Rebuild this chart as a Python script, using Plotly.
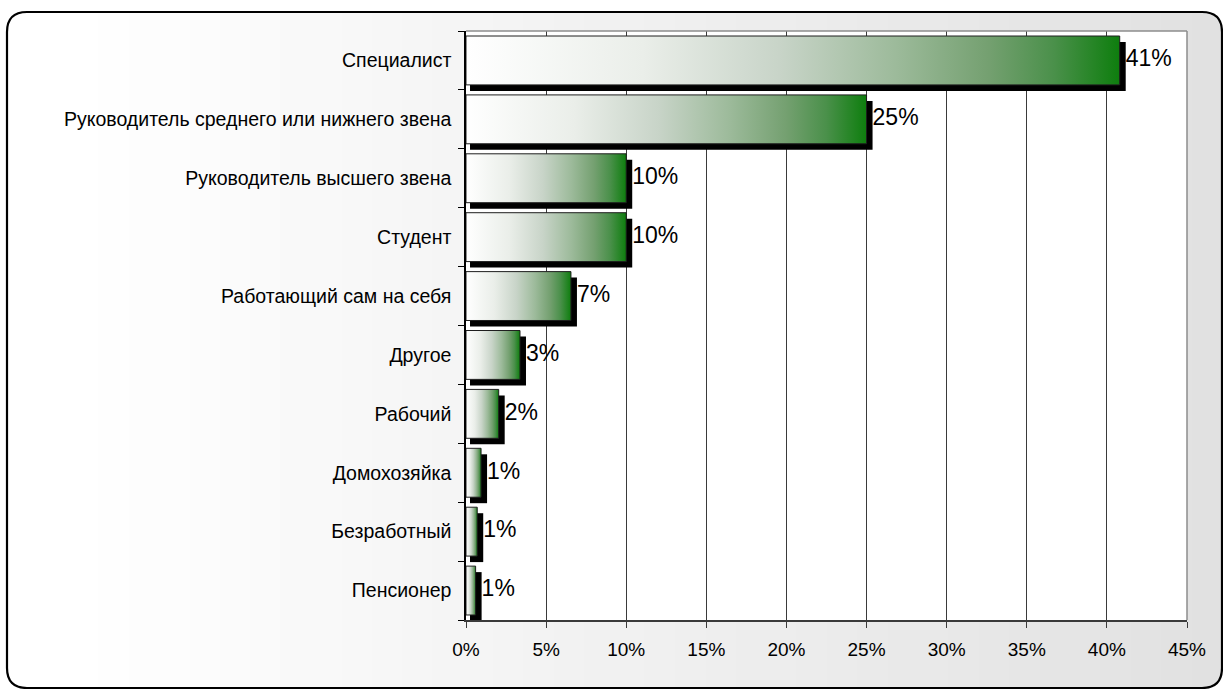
import plotly.graph_objects as go

categories = ["Специалист", "Руководитель среднего или нижнего звена",
              "Руководитель высшего звена", "Студент", "Работающий сам на себя",
              "Другое", "Рабочий", "Домохозяйка", "Безработный", "Пенсионер"]
values = [40.8, 25.0, 10.0, 10.0, 6.55, 3.37, 2.04, 0.94, 0.7, 0.6]
value_labels = ["41%", "25%", "10%", "10%", "7%", "3%", "2%", "1%", "1%", "1%"]
x_ticks = [0, 5, 10, 15, 20, 25, 30, 35, 40, 45]
x_tick_labels = [f"{t}%" for t in x_ticks]

W, H = 1223, 689
ML, MR, MT, MB = 466, 36, 31, 69
PW, PH = W - ML - MR, H - MT - MB
XMAX = 45
n = len(categories)
px_x = XMAX / PW          # data units per pixel (x)
px_y = n / PH             # data units per pixel (y)

BAR_W = 0.83
SH = 6                    # shadow offset in px
FONT = "Liberation Sans, Arial, sans-serif"

green_scale = [[0, "#ffffff"], [0.27, "#eaeee9"], [0.48, "#c8d4c8"],
               [0.66, "#9cba9a"], [0.8, "#74a070"], [0.9, "#4a904a"],
               [1, "#0e7e0e"]]

fig = go.Figure()

# shadows
ypos = list(range(n))
sh_base = 0.25
fig.add_trace(go.Bar(
    orientation="h", y=ypos,
    x=[v + SH * px_x - sh_base for v in values],
    base=sh_base, width=BAR_W, offset=-BAR_W / 2 + SH * px_y,
    marker=dict(color="black", line=dict(width=0)),
    hoverinfo="skip", showlegend=False))

# gradient bars
for i, v in enumerate(values):
    y0, y1 = i - BAR_W / 2, i + BAR_W / 2
    fig.add_trace(go.Scatter(
        x=[0, v, v, 0, 0], y=[y0, y0, y1, y1, y0],
        mode="lines", fill="toself",
        fillgradient=dict(type="horizontal", colorscale=green_scale),
        line=dict(color="#1e1e1e", width=1),
        hoverinfo="skip", showlegend=False, name=categories[i]))

# value labels
fig.add_trace(go.Scatter(
    x=[v + SH * px_x for v in values], y=ypos,
    mode="text", text=value_labels, textposition="middle right",
    textfont=dict(family=FONT, size=23, color="black"),
    hoverinfo="skip", showlegend=False))

# background: frame with gradient bands
shapes = []
fx0, fx1, fy0, fy1 = 7, 1222, 12, 688


def pxx(X):
    return (X - ML) / PW


def pxy(Y):
    return (H - MB - Y) / PH


nb = 40
for k in range(nb):
    a = fx0 + (fx1 - fx0) * k / nb
    b = fx0 + (fx1 - fx0) * (k + 1) / nb + 1
    t = max(0.0, (k + 0.5) / nb - 0.06) / 0.94
    g = int(round(255 - 30 * t))
    shapes.append(dict(type="rect", xref="paper", yref="paper", layer="below",
                       x0=pxx(a), x1=pxx(min(b, fx1)), y0=pxy(fy1), y1=pxy(fy0),
                       fillcolor=f"rgb({g},{g},{g})", line=dict(width=0)))
# white plot area
shapes.append(dict(type="rect", xref="paper", yref="paper", layer="below",
                   x0=0, x1=1, y0=0, y1=1, fillcolor="white", line=dict(width=0)))

# white corners outside rounded frame + frame line
r = 20
rx, ry = r / PW, r / PH
X0, X1, Y0, Y1 = pxx(fx0), pxx(fx1), pxy(fy1), pxy(fy0)
frame = (f"M {X0+rx},{Y1} L {X1-rx},{Y1} Q {X1},{Y1} {X1},{Y1-ry} "
         f"L {X1},{Y0+ry} Q {X1},{Y0} {X1-rx},{Y0} L {X0+rx},{Y0} "
         f"Q {X0},{Y0} {X0},{Y0+ry} L {X0},{Y1-ry} Q {X0},{Y1} {X0+rx},{Y1} Z")
corners = [
    f"M {X0-0.01},{Y1+0.01} L {X0+rx},{Y1+0.01} L {X0+rx},{Y1} Q {X0},{Y1} {X0},{Y1-ry} L {X0-0.01},{Y1-ry} Z",
    f"M {X1+0.01},{Y1+0.01} L {X1-rx},{Y1+0.01} L {X1-rx},{Y1} Q {X1},{Y1} {X1},{Y1-ry} L {X1+0.01},{Y1-ry} Z",
    f"M {X0-0.01},{Y0-0.01} L {X0+rx},{Y0-0.01} L {X0+rx},{Y0} Q {X0},{Y0} {X0},{Y0+ry} L {X0-0.01},{Y0+ry} Z",
    f"M {X1+0.01},{Y0-0.01} L {X1-rx},{Y0-0.01} L {X1-rx},{Y0} Q {X1},{Y0} {X1},{Y0+ry} L {X1+0.01},{Y0+ry} Z",
]
for c in corners:
    shapes.append(dict(type="path", xref="paper", yref="paper", layer="below",
                       path=c, fillcolor="white", line=dict(width=0)))
shapes.append(dict(type="path", xref="paper", yref="paper", layer="above",
                   path=frame, line=dict(color="black", width=2.2)))

# plot border top/right (gray)
shapes.append(dict(type="line", xref="paper", yref="paper", layer="above",
                   x0=0, x1=1, y0=1, y1=1, line=dict(color="#8c8c8c", width=1.5)))
shapes.append(dict(type="line", xref="paper", yref="paper", layer="above",
                   x0=1, x1=1, y0=0, y1=1, line=dict(color="#8c8c8c", width=1.5)))

fig.update_layout(
    width=W, height=H,
    margin=dict(l=ML, r=MR, t=MT, b=MB, pad=0),
    paper_bgcolor="white", plot_bgcolor="white",
    barmode="overlay", showlegend=False,
    shapes=shapes,
    font=dict(family=FONT, color="black"),
    xaxis=dict(range=[0, XMAX], tickvals=x_ticks, ticktext=x_tick_labels,
               showgrid=True, gridcolor="#3a3a3a", gridwidth=1,
               showline=True, linecolor="#3a3a3a", linewidth=1.5,
               ticks="outside", ticklen=6, tickcolor="#3a3a3a",
               ticklabelstandoff=5,
               tickfont=dict(family=FONT, size=19, color="black"),
               zeroline=False, fixedrange=True),
    yaxis=dict(range=[n - 0.5, -0.5], tickvals=ypos, ticktext=categories,
               ticks="", showgrid=False, zeroline=False,
               showline=True, linecolor="black", linewidth=1.5,
               minor=dict(tick0=-0.5, dtick=1, ticks="outside", ticklen=6,
                          tickcolor="black", showgrid=False),
               ticklabelstandoff=9,
               tickfont=dict(family=FONT, size=19.5, color="black"),
               fixedrange=True),
)

fig.write_html("out.html", config={"displayModeBar": False},
               post_script="document.body.style.margin='0';document.body.style.overflow='hidden';")
